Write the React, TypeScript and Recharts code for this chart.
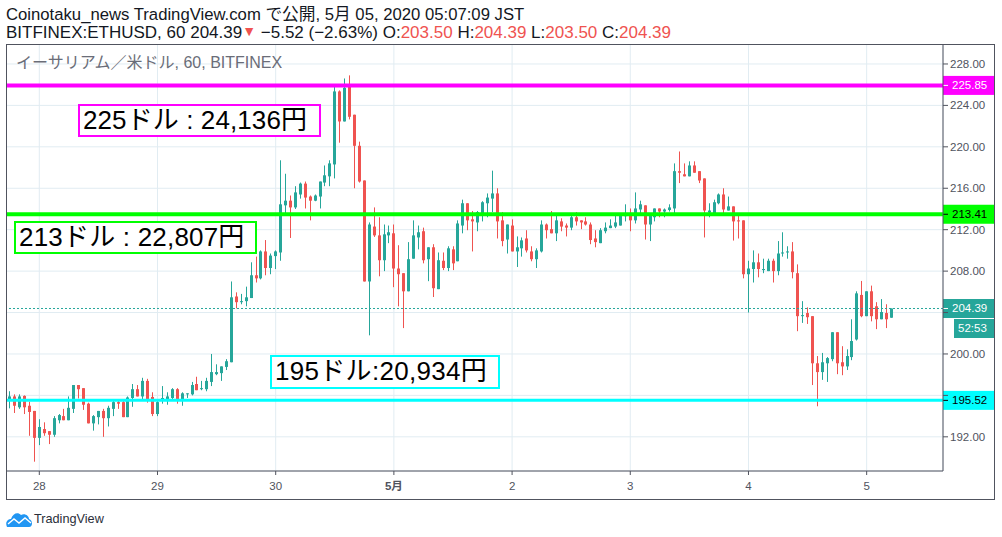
import React from "react";
import { ComposedChart, Bar, XAxis, YAxis, CartesianGrid, ReferenceLine } from "recharts";

const opens = [
195.55,195.9,194.85,195.95,195.0,194.5,191.9,192.75,192.55,192.2,
193.6,194.0,193.6,194.7,197.0,196.7,195.2,193.3,193.9,194.5,
193.8,194.7,195.35,195.35,193.9,195.75,196.6,195.9,197.4,195.85,
194.2,195.55,195.55,195.75,196.6,195.6,196.1,196.1,197.1,196.6,
196.6,197.3,198.05,198.15,198.75,199.2,205.55,205.0,205.1,205.4,
207.6,207.3,209.9,208.3,209.45,209.8,214.35,214.8,214.15,215.4,
216.45,215.2,214.8,215.2,216.55,217.15,218.3,225.35,222.45,225.9,
223.1,220.1,216.75,207.0,212.3,211.45,209.05,211.45,211.65,208.25,
207.8,206.05,209.2,211.25,211.85,209.15,210.3,206.26,209.0,208.3,
210.1,208.95,212.4,214.55,213.0,212.7,213.5,214.55,215.0,215.5,
212.9,211.05,212.4,209.9,210.2,211.15,209.9,209.15,209.9,212.5,
212.05,211.65,212.8,212.4,212.2,213.2,212.9,212.8,212.5,211.15,
210.7,211.85,212.15,212.3,212.4,213.3,213.4,212.9,213.95,214.35,
212.5,213.2,214.05,213.75,213.9,214.05,217.65,217.35,217.15,218.2,
217.65,216.95,213.65,213.6,214.55,215.4,213.85,214.25,212.9,212.9,
207.7,208.2,208.85,208.1,208.0,209.0,208.0,209.7,209.8,209.9,
207.8,203.65,203.95,203.65,199.1,198.25,199.1,199.5,202.1,199.2,
198.8,199.7,201.4,205.7,203.65,206.05,204.6,203.35,203.95,203.5];
const highs = [
196.4,196.1,196.1,196.0,195.4,194.5,193.7,193.4,192.55,194.0,
194.2,194.7,195.9,197.0,197.0,196.7,195.3,194.1,194.5,194.7,
195.0,195.55,195.55,195.55,195.9,197.1,197.0,197.7,197.6,196.3,
195.55,196.9,196.3,196.7,196.7,196.3,196.2,197.3,197.8,197.4,
197.7,200.0,199.0,198.8,199.5,207.0,205.95,205.8,206.5,208.85,
209.4,210.0,211.0,209.7,210.0,218.7,217.4,215.3,216.2,216.55,
216.65,215.3,215.4,216.65,218.2,218.7,226.0,225.45,226.6,226.9,
223.1,220.5,216.75,212.7,214.15,213.2,212.5,212.4,212.5,210.5,
207.8,210.8,212.9,212.4,212.2,210.3,210.6,209.8,209.8,210.4,
210.4,212.9,214.9,214.55,213.8,213.8,214.75,215.5,217.7,216.0,
213.7,212.5,213.0,211.35,211.25,211.95,210.4,210.2,212.9,212.6,
213.8,213.4,213.1,212.6,213.6,213.7,212.9,213.2,212.7,211.95,
212.15,212.7,213.0,213.6,213.4,214.45,214.05,215.6,214.8,214.35,
213.5,214.05,214.05,214.05,214.45,218.4,219.55,218.4,218.6,218.6,
217.65,216.95,214.55,214.9,215.5,216.0,215.2,214.25,213.5,212.9,
209.0,210.0,209.7,209.2,209.2,209.2,210.9,211.75,210.4,210.8,
208.65,205.1,204.5,203.65,199.8,200.1,199.7,202.1,202.1,200.75,
200.45,203.35,206.05,207.05,206.05,206.6,205.0,205.3,204.8,204.39];
const lows = [
194.75,194.3,194.7,194.2,192.1,189.6,191.2,192.1,191.3,192.0,
193.3,193.6,193.6,194.3,195.7,194.6,193.3,192.6,193.2,192.0,
193.0,194.0,194.7,193.9,193.9,194.9,195.9,195.55,195.3,194.0,
194.0,195.2,195.1,195.6,195.2,195.0,195.75,196.0,196.5,196.5,
196.4,196.9,197.95,197.4,198.45,199.2,204.4,204.8,204.6,205.4,
206.9,207.2,207.6,207.7,208.2,209.0,213.4,211.2,214.0,215.0,
214.05,212.9,214.75,214.05,216.2,216.2,216.95,220.4,222.45,222.65,
216.0,216.55,207.0,201.8,211.3,207.5,208.0,210.7,206.45,204.6,
202.5,206.05,209.2,210.1,208.75,207.03,205.5,206.26,208.1,208.0,
208.1,208.95,211.65,211.95,209.9,211.85,212.8,213.2,213.7,211.15,
210.4,209.7,209.9,208.4,209.4,209.8,208.95,208.3,209.8,211.15,
211.65,210.9,211.85,211.35,211.95,212.4,212.05,212.4,210.6,210.3,
210.7,211.65,212.15,212.15,212.4,212.8,211.85,212.6,213.5,211.05,
210.9,212.8,213.2,213.2,213.75,213.6,216.5,217.15,217.15,217.5,
216.5,211.25,213.2,213.4,214.45,213.4,213.85,210.95,211.15,207.3,
204.0,206.9,207.4,207.8,208.0,206.9,207.6,209.4,209.2,207.3,
202.2,203.0,202.9,197.0,194.95,197.5,197.3,199.3,198.05,197.95,
198.45,199.4,201.3,203.55,203.65,203.15,202.4,203.35,202.5,203.5];
const closes = [
195.9,195.0,195.9,194.85,194.4,191.9,192.95,192.35,192.2,193.8,
194.1,193.6,194.8,197.0,196.6,195.1,193.3,194.0,194.5,193.8,
194.8,195.35,195.2,193.9,195.8,196.6,195.9,197.4,195.55,194.2,
195.35,195.75,195.9,196.6,195.6,196.2,196.2,197.0,196.5,196.7,
197.4,198.25,198.25,198.8,199.3,205.47,205.0,205.1,205.47,207.6,
207.3,209.9,208.3,209.5,209.9,214.45,214.8,214.15,215.6,216.45,
215.1,214.8,215.3,216.65,217.25,218.4,225.35,222.45,225.7,222.9,
220.1,216.65,207.0,212.5,211.45,209.05,211.55,211.75,208.25,207.7,
206.05,209.15,211.45,211.75,209.05,210.3,206.35,209.05,208.3,210.2,
208.75,212.6,214.55,212.9,212.8,213.7,214.65,215.1,215.5,212.8,
210.9,212.5,209.9,210.3,210.97,210.0,209.15,210.0,212.5,211.95,
211.65,212.9,212.3,212.2,213.2,212.8,212.7,212.5,211.0,210.8,
211.95,212.2,212.4,212.7,213.4,213.4,212.9,214.05,214.45,212.5,
213.4,214.05,213.75,213.95,214.15,217.65,217.5,217.15,218.2,217.5,
216.75,213.85,213.85,214.65,215.4,213.95,214.25,212.8,212.8,207.7,
208.25,208.85,208.2,208.2,209.0,208.0,209.7,209.8,209.9,207.9,
203.65,203.75,203.55,199.1,198.25,199.2,199.6,202.1,199.1,198.8,
199.8,201.25,205.85,203.65,206.05,203.65,203.35,204.05,203.35,204.39];

const priceTicks = [192, 196, 200, 204, 208, 212, 216, 220, 224, 228];
const coveredTicks = [196, 204];
const dayTicks = [6, 30, 54, 78, 102, 126, 150, 174];
const dayLabels = ["28", "29", "30", "5月", "2", "3", "4", "5"];
const boldDay = "5月";

const candles = opens.map((o, i) => ({
  idx: i, open: o, high: highs[i], low: lows[i], close: closes[i],
  range: [lows[i], highs[i]],
}));

const levelMagenta = 225.93;
const levelLime = 213.49;
const levelCyan = 195.52;
const lastPrice = 204.39;
const tagMagenta = "225.85";
const tagLime = "213.41";
const tagCyan = "195.52";
const tagLast = "204.39";
const tagTimer = "52:53";

const headerLine1 = "Coinotaku_news TradingView.com で公開, 5月 05, 2020 05:07:09 JST";
const chartTitle = "イーサリアム／米ドル, 60, BITFINEX";
const note225 = "225ドル : 24,136円";
const note213 = "213ドル : 22,807円";
const note195 = "195ドル:20,934円";

const UP = "#26a69a";
const DOWN = "#ef5350";
const AXIS = "#50535e";
const GRID = "#e1ecf2";
const UI = "'Liberation Sans','Noto Sans CJK JP',sans-serif";

function Candle(props: any) {
  const { x, y, width, height, payload } = props;
  if (!payload) return null;
  const { open, high, low, close } = payload;
  const span = high - low || 1;
  const top = y + ((high - Math.max(open, close)) / span) * height;
  const bottom = y + ((high - Math.min(open, close)) / span) * height;
  const cx = Math.round(x + width / 2 - 0.5);
  const color = close >= open ? UP : DOWN;
  return (
    <g>
      <rect x={cx} y={y} width={1} height={height} fill={color} />
      <rect x={cx - 1} y={top} width={3} height={Math.max(bottom - top, 1)} fill={color} />
    </g>
  );
}

function PriceTag(props: any) {
  const { viewBox, fill, color, text, tickColor, timer } = props;
  const vy = viewBox.y;
  const left = viewBox.x + viewBox.width;
  return (
    <g>
      <rect x={left} y={vy - 9.5} width={51} height={19} fill={fill} />
      <line x1={left} x2={left + 5} y1={vy} y2={vy} stroke={tickColor} />
      <text x={left + 9} y={vy + 4} fontSize={11.5} fontFamily={UI} fill={color}>{text}</text>
      {timer ? (
        <g>
          <rect x={left + 11} y={vy + 10.5} width={40} height={19} fill={fill} />
          <text x={left + 15} y={vy + 24} fontSize={11.5} fontFamily={UI} fill={color}>{timer}</text>
        </g>
      ) : null}
    </g>
  );
}

function DayTick(props: any) {
  const { x, y, payload } = props;
  const label = dayLabels[dayTicks.indexOf(payload.value)];
  return (
    <text x={x} y={y + 13} textAnchor="middle" fontSize={11.5} fontFamily={UI}
      fontWeight={label === boldDay ? 700 : 400} fill={AXIS}>{label}</text>
  );
}

function Note({ left, top, width, height, color, text, spacing }: any) {
  return (
    <div style={{ position: "absolute", left, top, width, height, boxSizing: "border-box",
      border: `2.5px solid ${color}`, background: "#fff", color: "#000", fontFamily: UI, fontSize: 26,
      letterSpacing: spacing, lineHeight: `${height - 5}px`, paddingLeft: 3, whiteSpace: "nowrap", overflow: "hidden" }}>{text}</div>
  );
}

const red = { color: "#ef5350" };

export default function App() {
  return (
    <div style={{ position: "absolute", left: 0, top: 0, width: 1002, height: 537, background: "#fff", overflow: "hidden" }}>
      <ComposedChart width={1002} height={537} data={candles}
        margin={{ top: 44.5, right: 7, bottom: 37, left: 6.5 }}>
        <CartesianGrid stroke={GRID} strokeWidth={1} />
        <XAxis dataKey="idx" type="number" domain={[-0.66, 189.5]} allowDataOverflow ticks={dayTicks}
          height={29} tick={<DayTick />} tickLine={{ stroke: AXIS }} tickSize={4} axisLine={{ stroke: AXIS }} interval={0} />
        <YAxis orientation="right" type="number" domain={[188.7, 229.88]} allowDataOverflow ticks={priceTicks}
          width={52} tickFormatter={(v: number) => (coveredTicks.includes(v) ? "" : v.toFixed(2))} interval={0} tickSize={5}
          tick={{ fontSize: 11.5, fontFamily: UI, fill: AXIS }} tickLine={{ stroke: AXIS }} axisLine={{ stroke: AXIS }} />
        <Bar dataKey="range" barSize={3} isAnimationActive={false} shape={<Candle />} />
        <ReferenceLine y={lastPrice} stroke={UP} strokeDasharray="2 2" strokeWidth={1}
          label={(p: any) => <PriceTag {...p} fill={UP} color="#fff" tickColor="#fff" text={tagLast} timer={tagTimer} />} />
        <ReferenceLine y={levelMagenta} stroke="#ff00ff" strokeWidth={4}
          label={(p: any) => <PriceTag {...p} fill="#ff00ff" color="#fff" tickColor="#fff" text={tagMagenta} />} />
        <ReferenceLine y={levelLime} stroke="#00ff00" strokeWidth={4}
          label={(p: any) => <PriceTag {...p} fill="#00ff00" color="#000" tickColor="#000" text={tagLime} />} />
        <ReferenceLine y={levelCyan} stroke="#00ffff" strokeWidth={3}
          label={(p: any) => <PriceTag {...p} fill="#00ffff" color="#000" tickColor="#000" text={tagCyan} />} />
      </ComposedChart>

      <div style={{ position: "absolute", left: 6, top: 44, width: 989, height: 456, boxSizing: "border-box", border: `1px solid ${AXIS}`, pointerEvents: "none" }} />

      <div style={{ position: "absolute", left: 6, top: 6, fontFamily: UI, lineHeight: "18px", color: "#131722", whiteSpace: "nowrap" }}>
        <div style={{ fontSize: 16.7 }}>{headerLine1}</div>
        <div style={{ fontSize: 17 }}>
          BITFINEX:ETHUSD, 60 204.39<span style={{ color: "#ef5350", fontSize: 14, position: "relative", top: -2 }}>▼</span> −5.52 (−2.63%) O:<span style={red}>203.50</span> H:<span style={red}>204.39</span> L:<span style={red}>203.50</span> C:<span style={red}>204.39</span>
        </div>
      </div>

      <div style={{ position: "absolute", left: 16, top: 53, fontFamily: UI, fontSize: 16, lineHeight: "20px", color: "#6a6d78", whiteSpace: "nowrap" }}>{chartTitle}</div>

      <Note left={78} top={104} width={243} height={33} color="#ff00ff" text={note225} spacing={0.1} />
      <Note left={14} top={221} width={243} height={33} color="#00ff00" text={note213} spacing={0.2} />
      <Note left={270} top={355} width={230} height={34} color="#00ffff" text={note195} spacing={0.3} />

      <svg style={{ position: "absolute", left: 6, top: 511 }} width={27} height={16} viewBox="0 0 27 16">
        <path d="M1 16 C-1 12 1 8 5 8 C7 2 12 1 15 4 C19 2 23 5 23 8 C27 9 27 16 23 16 Z" fill="#2196f3" />
        <path d="M2 13 L8 8 L13 12 L19 7 L25 12" fill="none" stroke="#fff" strokeWidth={1.4} />
      </svg>
      <div style={{ position: "absolute", left: 34, top: 511, fontFamily: UI, fontSize: 12.7, lineHeight: "16px", color: "#2a2e39" }}>TradingView</div>
    </div>
  );
}
